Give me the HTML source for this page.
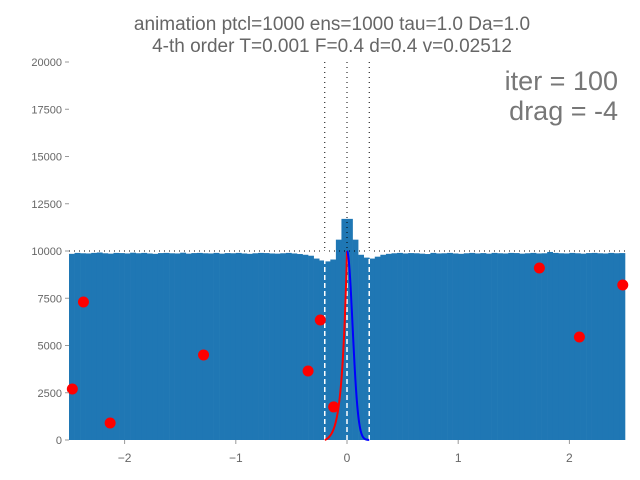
<!DOCTYPE html>
<html><head><meta charset="utf-8"><style>
body{margin:0;background:#fff;}
svg{display:block;font-family:"Liberation Sans",sans-serif;}
</style></head><body>
<svg id="chart" width="640" height="480">
<g id="bars"></g>
<g id="lines"></g>
<g id="curves"></g>
<g id="dots"></g>
<g id="axes"></g>
<text x="332" y="30" text-anchor="middle" font-size="19" fill="#666">animation ptcl=1000 ens=1000 tau=1.0 Da=1.0</text>
<text x="332" y="52" text-anchor="middle" font-size="19" fill="#666">4-th order T=0.001 F=0.4 d=0.4 v=0.02512</text>
<text x="618" y="90" text-anchor="end" font-size="27" fill="#777">iter = 100</text>
<text x="618" y="120" text-anchor="end" font-size="27" fill="#777">drag = -4</text>
</svg>
<script>
const binEdgesStart = -2.5, binWidth = 0.05;
const counts = [9850,9900,9880,9870,9900,9920,9880,9860,9900,9890,9870,9910,9880,9900,9870,9850,9890,9900,9880,9870,
9910,9860,9890,9900,9880,9870,9900,9860,9890,9880,9900,9870,9850,9880,9900,9890,9870,9860,9880,9900,
9870,9840,9800,9750,9600,9500,9450,9550,10600,11700,
11700,10600,9800,9650,9600,9700,9800,9850,9880,9900,
9870,9890,9880,9860,9840,9900,9870,9880,9900,9870,9850,9880,9900,9870,9890,9860,9900,9880,9870,9900,
9890,9860,9880,9900,9870,9880,9950,9900,9880,9870,9900,9880,9860,9890,9900,9880,9870,9900,9880,9890];
const dotX = [-2.47,-2.37,-2.13,-1.29,-0.35,-0.24,-0.12,1.73,2.09,2.48];
const dotY = [2700,7300,900,4500,3650,6350,1750,9100,5450,8200];
const xTicks = [-2,-1,0,1,2];
const xTickLabels = ["\u22122","\u22121","0","1","2"];
const yTicks = [0,2500,5000,7500,10000,12500,15000,17500,20000];
const thresholds = [-0.2,0,0.2];
const NS="http://www.w3.org/2000/svg";
const X = v => 347 + v*111.2;
const Y = v => 440 - v*0.0189;
function mk(tag, parent, attrs){const e=document.createElementNS(NS,tag);for(const k in attrs)e.setAttribute(k,attrs[k]);document.getElementById(parent).appendChild(e);return e;}
counts.forEach((c,i)=>{
  const x0=X(binEdgesStart+i*binWidth), x1=X(binEdgesStart+(i+1)*binWidth);
  const r=mk('rect','bars',{x:x0,y:Y(c),width:x1-x0+0.3,height:Y(0)-Y(c),fill:'#1f77b4'});
  
  
});
const hl=mk('line','lines',{x1:X(-2.5),x2:X(2.5),y1:Y(10000),y2:Y(10000),stroke:'#000','stroke-width':1,'stroke-dasharray':'1,4'});


thresholds.forEach(t=>{
  const a=mk('line','lines',{x1:X(t),x2:X(t),y1:Y(20000),y2:Y(10000),stroke:'#000','stroke-width':1,'stroke-dasharray':'1,4'});
  
  
  const b=mk('line','lines',{x1:X(t),x2:X(t),y1:Y(10000),y2:Y(0),stroke:'#fff','stroke-width':1.5,'stroke-dasharray':'5,3'});
  
  
});
let pr='',pb='';
const s=0.045, e0=Math.exp(-0.2/s);
for(let k=0;k<=80;k++){const x=-0.2+0.2*k/80;const y=10000*(Math.exp(x/s)-e0)/(1-e0);pr+=(k?'L':'M')+X(x)+','+Y(y);}
for(let k=0;k<=80;k++){const x=0.2*k/80;const y=10000*Math.exp(-x*x/(2*0.05*0.05));pb+=(k?'L':'M')+X(x)+','+Y(y);}
const cr=mk('path','curves',{d:pr,fill:'none',stroke:'#ff0000','stroke-width':2});


const cb=mk('path','curves',{d:pb,fill:'none',stroke:'#0000ff','stroke-width':2});


dotX.forEach((x,i)=>{
  const d=mk('circle','dots',{cx:X(x),cy:Y(dotY[i]),r:5.5,fill:'#ff0000'});
  
  
});
xTicks.forEach((t,i)=>{
  mk('line','axes',{x1:X(t),x2:X(t),y1:440,y2:444,stroke:'#999','stroke-width':1});
  const tx=mk('text','axes',{x:X(t),y:462,'text-anchor':'middle','font-size':12,fill:'#666'});
  tx.textContent=xTickLabels[i];
  
  
});
yTicks.forEach(t=>{
  mk('line','axes',{x1:65,x2:69,y1:Y(t),y2:Y(t),stroke:'#999','stroke-width':1});
  const tx=mk('text','axes',{x:62,y:Y(t)+4,'text-anchor':'end','font-size':11,fill:'#666'});
  tx.textContent=String(t);
  
  
});
</script>
</body></html>
